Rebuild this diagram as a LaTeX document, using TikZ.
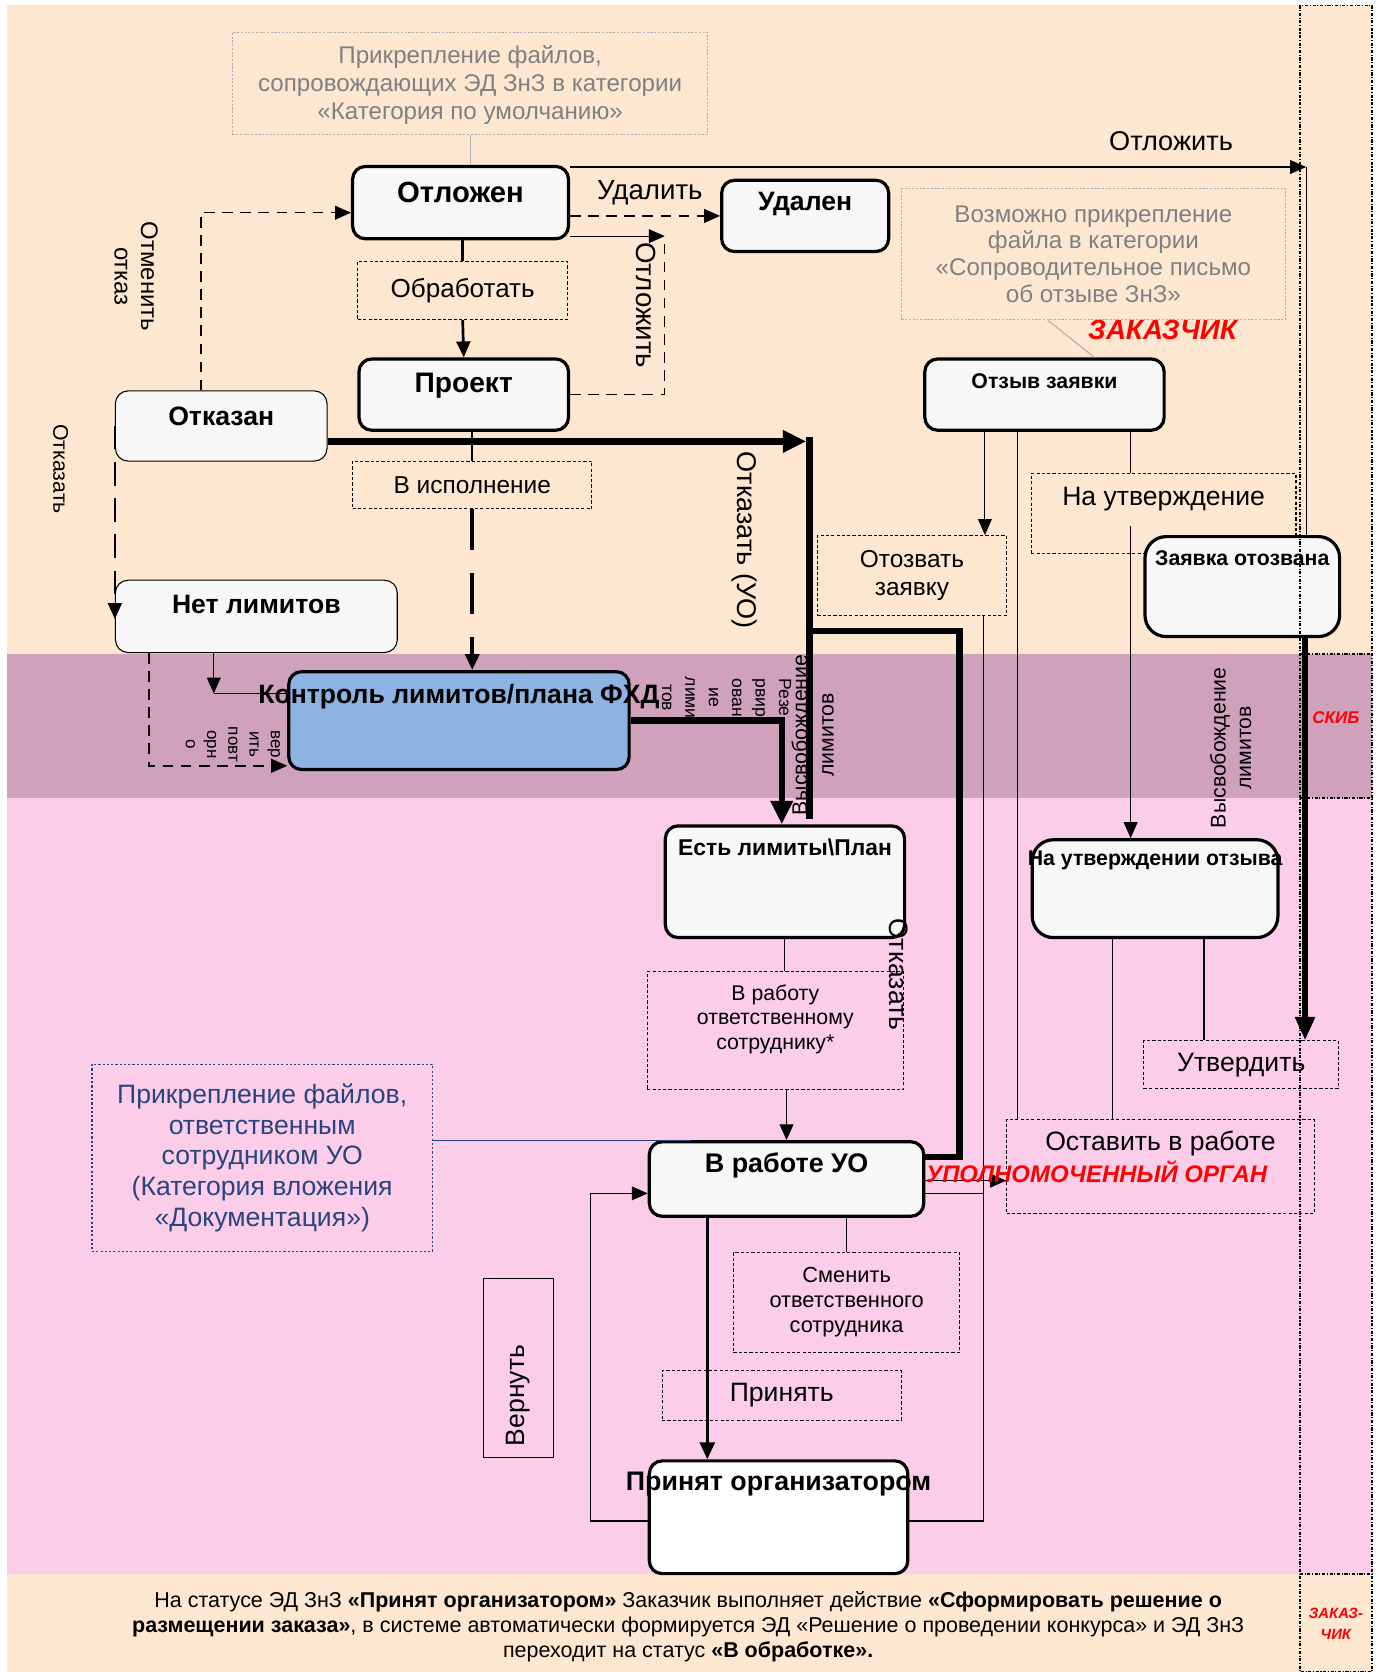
\documentclass[tikz,border=0pt]{standalone}
\usepackage{fontspec}
\setmainfont{Liberation Sans}
\usetikzlibrary{arrows.meta}
\definecolor{zakbg}{RGB}{253,231,209}
\definecolor{skibbg}{RGB}{208,161,187}
\definecolor{uobg}{RGB}{252,205,232}
\definecolor{boxfill}{RGB}{247,247,247}
\definecolor{kontrblue}{RGB}{141,179,226}
\definecolor{notegray}{RGB}{128,128,128}
\definecolor{noteline}{RGB}{175,175,175}
\definecolor{docblue}{RGB}{40,70,125}
\definecolor{orgred}{RGB}{255,0,0}

\begin{document}
\begin{tikzpicture}[x=1pt, y=-1pt, % one unit = one pixel of the scheme, y goes down
	stbox/.style={draw, line width=3pt, rounded corners=12pt, fill=boxfill, anchor=north west, inner sep=0pt},
	thinbox/.style={stbox, line width=1pt},
	actbox/.style={draw, line width=1pt, dash pattern=on 3pt off 2pt, anchor=north west, align=center, inner sep=0pt, font=\fontsize{25}{29}\selectfont},
	notebox/.style={actbox, draw=noteline, text=notegray, dash pattern=on 2pt off 1.5pt, font=\fontsize{22.7}{26}\selectfont},
	bigname/.style={anchor=center, inner sep=0pt, font=\fontsize{25}{29}\selectfont\bfseries},
	smallname/.style={anchor=center, inner sep=0pt, font=\fontsize{20}{24}\selectfont\bfseries},
	lbl/.style={anchor=center, inner sep=0pt, font=\fontsize{25}{29}\selectfont},
	redlbl/.style={anchor=center, inner sep=0pt, text=orgred},
	thinl/.style={line width=1pt},
	conn/.style={thinl, -{Triangle[length=15pt,width=13pt]}},
	dashconn/.style={conn, line width=1.3pt, dash pattern=on 10pt off 7pt},
	thickconn/.style={line width=6pt, -{Triangle[length=22pt,width=20pt]}},
	colline/.style={line width=1.5pt, dash pattern=on 3pt off 1.5pt on 1pt off 1.5pt}]
	\useasboundingbox (0,0) rectangle (1300,1572);
	
	% lanes
	\fill[zakbg] (7,5) rectangle (1290,615);
	\fill[skibbg] (7,615) rectangle (1290,750);
	\fill[uobg] (7,750) rectangle (1290,1480);
	\fill[zakbg] (7,1480) rectangle (1290,1572);
	
	% actions
	\node[actbox, minimum width=197pt, minimum height=55pt, font=\fontsize{24.5}{28}\selectfont] (obrab) at (336,245) {Обработать};
	\node[actbox, minimum width=225pt, minimum height=45pt, font=\fontsize{23}{27}\selectfont] (visp) at (331,433) {В исполнение};
	\node[actbox, minimum width=241pt, minimum height=111pt, label={[lbl,font=\fontsize{20}{23}\selectfont,align=center,yshift=-45pt]north:В работу\\ответственному\\сотруднику*}] (vrabotu) at (608,913) {};
	\node[actbox, minimum width=213pt, minimum height=94pt, font=\fontsize{20.5}{23.5}\selectfont] (smenit) at (689,1177) {Сменить\\ответственного\\сотрудника};
	\node[actbox, minimum width=225pt, minimum height=47pt] (prinyatact) at (622,1288) {Принять};
	\node[actbox, minimum width=249pt, minimum height=75pt, label={[lbl,yshift=-24pt]north:На утверждение}] (naut) at (969,445) {};
	\node[actbox, minimum width=178pt, minimum height=75pt, font=\fontsize{23}{26}\selectfont] (otozvat) at (768,503) {Отозвать\\заявку};
	\node[actbox, minimum width=183pt, minimum height=45pt] (utverd) at (1075,978) {Утвердить};
	\node[actbox, minimum width=289pt, minimum height=88pt, label={[lbl,yshift=-23pt]north:Оставить в работе}] (ostavit) at (946,1052) {};
	\node[draw, thinl, lbl, rotate=90, minimum width=168pt, minimum height=65pt] (vernut) at (487.5,1286) {Вернуть\hspace*{52pt}};
	
	% states
	\node[stbox, minimum width=203pt, minimum height=68pt, label={[bigname,font=\fontsize{27.5}{31}\selectfont\bfseries,yshift=-26pt]north:Отложен}] (otl) at (330,155) {};
	\node[stbox, minimum width=157pt, minimum height=67pt, label={[bigname,yshift=-24pt]north:Удален}] (udal) at (677,168) {};
	\node[stbox, minimum width=197pt, minimum height=67pt, label={[bigname,font=\fontsize{26.5}{30}\selectfont\bfseries,yshift=-27pt]north:Проект}] (proekt) at (336,336) {};
	\node[thinbox, minimum width=199pt, minimum height=66pt, label={[bigname,yshift=-24pt]north:Отказан}] (otkazan) at (108,367) {};
	\node[thinbox, minimum width=265pt, minimum height=68pt, label={[bigname,yshift=-23pt]north:Нет лимитов}] (netlim) at (108,545) {};
	\node[stbox, fill=kontrblue, minimum width=320pt, minimum height=92pt, label={[bigname,yshift=-25pt]north:Контроль лимитов/плана ФХД}] (kontrol) at (270,630) {};
	\node[stbox, minimum width=225pt, minimum height=105pt, label={[bigname,font=\fontsize{21.5}{25}\selectfont\bfseries,yshift=-22pt]north:Есть лимиты\textbackslash План}] (estlim) at (624,775) {};
	\node[stbox, minimum width=258pt, minimum height=70pt, label={[bigname,font=\fontsize{25.3}{29}\selectfont\bfseries,yshift=-24pt]north:В работе УО}] (vrabote) at (609,1072) {};
	\node[stbox, fill=white, minimum width=243pt, minimum height=106pt, label={[bigname,font=\fontsize{25.2}{29}\selectfont\bfseries,yshift=-23pt]north:Принят организатором}] (prinyat) at (609,1372) {};
	\node[stbox, minimum width=225pt, minimum height=67pt, label={[smallname,yshift=-22pt]north:Отзыв заявки}] (otzyv) at (868,336) {};
	\node[stbox, rounded corners=20pt, minimum width=183pt, minimum height=94pt, label={[smallname,yshift=-22pt]north:Заявка отозвана}] (otozvana) at (1075,503) {};
	\node[stbox, rounded corners=20pt, minimum width=231pt, minimum height=92pt, label={[smallname,yshift=-21pt]north:На утверждении отзыва}] (naotzyv) at (969,788) {};
	
	% attachments
	\node[notebox, minimum width=447pt, minimum height=96pt, label={[lbl,text=notegray,font=\fontsize{22.7}{26}\selectfont,align=center,yshift=-50pt]north:Прикрепление файлов,\\сопровождающих ЭД ЗнЗ в категории\\«Категория по умолчанию»}] (attach1) at (218,30) {};
	\node[notebox, minimum width=361pt, minimum height=123pt, font=\fontsize{22.7}{25.3}\selectfont] (attach2) at (847,177) {Возможно прикрепление\\файла в категории\\«Сопроводительное письмо\\об отзыве ЗнЗ»};
	\node[actbox, draw=docblue, text=docblue, dash pattern=on 2pt off 2pt, minimum width=320pt, minimum height=176pt, font=\fontsize{25}{29}\selectfont] (attach3) at (86,1000) {Прикрепление файлов,\\ответственным\\сотрудником УО\\(Категория вложения\\«Документация»)};
	
	% connectors, upper part
	\coordinate (postR) at (1228,157);
	\draw[conn] (postR -| otl.east) -- (postR);
	\draw[thinl] (postR) -- (postR |- otozvana.north);
	\draw[dashconn] (otl.east |- udal.west) -- (udal.west);
	\coordinate (postL) at (625,222);
	\draw[line width=1.3pt, dash pattern=on 10pt off 7pt] (proekt.east) -| (postL);
	\draw[conn] (postL -| otl.east) -- (postL);
	\draw[thinl, noteline] (attach1.south) -- (attach1.south |- otl.north);
	\draw[line width=2.5pt] (obrab.north |- otl.south) -- (obrab.north);
	\draw[line width=2.5pt, -{Triangle[length=15pt,width=13pt]}] (obrab.south) -- (proekt.north);
	\coordinate (cancelC) at (189,200);
	\draw[dashconn] (cancelC |- otkazan.north) -- (cancelC) -- (cancelC -| otl.west);
	\coordinate (rejC) at (758,415);
	\coordinate (rejV) at (761,415);
	\draw[thickconn] (otkazan.east |- rejC) -- (rejC);
	\draw[line width=6pt] ([yshift=4pt]rejV) -- ([yshift=5pt]rejV |- estlim.north);
	\draw[line width=2pt] (visp.north |- proekt.south) -- (visp.north);
	\draw[line width=3.5pt, dash pattern=on 38pt off 22pt, -{Triangle[length=15pt,width=13pt]}] (visp.south) -- (visp.south |- kontrol.north);
	\coordinate (rejL) at (108,582);
	\draw[line width=2pt, dash pattern=on 22pt off 12pt, -{Triangle[length=15pt,width=13pt]}] (otkazan.west) -- (rejL);
	\coordinate (netC) at (201,652);
	\draw[conn] (netC |- netlim.south) -- (netC);
	\draw[thinl] (netC) -- (netC -| kontrol.west);
	\coordinate (recheckC) at (140,720);
	\draw[dashconn] (recheckC |- netlim.south) -- (recheckC) -- (recheckC -| kontrol.west);
	\coordinate (resC) at (735,677);
	\draw[thickconn] (kontrol.east) -| (resC |- estlim.north);
	\coordinate (uoRej) at (902,1088);
	\coordinate (uoRejTop) at (902,593);
	\draw[line width=6pt] (uoRej -| vrabote.east) -- (uoRej) -- (uoRejTop) -- (uoRejTop -| rejV);
	
	% connectors, lower part
	\draw[thinl] (estlim.south) -- (estlim.south |- vrabotu.north);
	\draw[conn] (vrabote.north |- vrabotu.south) -- (vrabote.north);
	\coordinate (docC) at (650,1072);
	\draw[thinl, docblue] (docC -| attach3.east) -- (docC);
	\coordinate (acceptC) at (665,1142);
	\draw[line width=3pt, -{Triangle[length=16pt,width=14pt]}] (acceptC |- vrabote.south) -- (acceptC |- prinyat.north);
	\draw[thinl] (smenit.north |- vrabote.south) -- (smenit.north);
	\coordinate (retB) at (555,1430);
	\coordinate (retT) at (555,1122);
	\draw[conn] (retB -| prinyat.west) -- (retB) -- (retT) -- (retT -| vrabote.west);
	\coordinate (rightB) at (925,1430);
	\draw[thinl] (rightB -| prinyat.east) -- (rightB) -- (rightB |- otozvat.south);
	\draw[thinl] (retT -| vrabote.east) -- (retT -| rightB);
	\coordinate (keepC) at (946,1110);
	\draw[conn] (keepC -| vrabote.east) -- (keepC);
	
	% recall branch
	\coordinate (revA) at (926,503);
	\draw[conn] (revA |- otzyv.south) -- (revA |- otozvat.north);
	\coordinate (revB) at (957,1052);
	\draw[thinl] (revB |- otzyv.south) -- (revB |- ostavit.north);
	\coordinate (revC) at (1063,495);
	\draw[thinl] (revC |- otzyv.south) -- (revC |- naut.north);
	\draw[conn] (revC) -- (revC |- naotzyv.north);
	\coordinate (noteA) at (985,300);
	\coordinate (noteB) at (1029,336);
	\draw[thinl, noteline] (noteA |- attach2.south) -- (noteB |- otzyv.north);
	\coordinate (apprA) at (1046,900);
	\draw[thinl] (apprA |- naotzyv.south) -- (apprA |- ostavit.north);
	\coordinate (apprB) at (1132,900);
	\draw[thinl] (apprB |- naotzyv.south) -- (apprB |- utverd.north);
	\coordinate (wdC) at (1227,700);
	\draw[line width=5pt, -{Triangle[length=22pt,width=18pt]}] (wdC |- otozvana.south) -- (wdC |- utverd.north);
	
	% labels on the arrows
	\node[lbl, font=\fontsize{26}{30}\selectfont] (lbldel) at (611,181) {Удалить};
	\node[lbl, font=\fontsize{25.5}{29}\selectfont] (lblpost) at (1101,133) {Отложить};
	\node[lbl, font=\fontsize{26}{30}\selectfont, rotate=-90] (lblpost2) at (607,287) {Отложить};
	\node[lbl, font=\fontsize{22.5}{25}\selectfont, rotate=-90, align=center] (lblcancel) at (128,260) {Отменить\\отказ};
	\node[lbl, font=\fontsize{20}{22}\selectfont, rotate=-90] (lblrej1) at (57,441) {Отказать};
	\node[lbl, font=\fontsize{25.5}{29}\selectfont, rotate=-90] (lblrejuo) at (700,508) {Отказать (УО)};
	\node[lbl, rotate=-90] (lblrej2) at (845,916) {Отказать};
	\node[lbl, font=\fontsize{16.5}{22}\selectfont, rotate=-90, align=center] (lblreserve) at (683,656) {Резе\\рвир\\ован\\ие\\лими\\тов};
	\node[lbl, font=\fontsize{16}{20}\selectfont, rotate=-90, align=center] (lblrecheck) at (219,700) {вер\\ить\\повт\\орн\\о};
	\node[lbl, font=\fontsize{20}{25}\selectfont, rotate=90, align=center] (lblfree1) at (764,691) {Высвобождение\\лимитов};
	\node[lbl, font=\fontsize{20}{24}\selectfont, rotate=90, align=center] (lblfree2) at (1157,703) {Высвобождение\\лимитов};
	
	% lane names
	\node[redlbl, font=\fontsize{26}{30}\selectfont\bfseries\itshape] (lblzak) at (1093,310) {ЗАКАЗЧИК};
	\node[redlbl, font=\fontsize{22.5}{26}\selectfont\bfseries\itshape] (lbluo) at (1031,1102) {УПОЛНОМОЧЕННЫЙ ОРГАН};
	\node[redlbl, font=\fontsize{16}{20}\selectfont\bfseries\itshape] (lblskib) at (1256,675) {СКИБ};
	\node[redlbl, font=\fontsize{14}{20}\selectfont\bfseries\itshape, align=center] (lblzak2) at (1256,1527) {ЗАКАЗ-\\ЧИК};
	
	% footer
	\node[lbl, font=\fontsize{20.2}{23.5}\selectfont, align=center] (footer) at (647,1529) {На статусе ЭД ЗнЗ \textbf{«Принят организатором»} Заказчик выполняет действие \textbf{«Сформировать решение о}\\\textbf{размещении заказа»}, в системе автоматически формируется ЭД «Решение о проведении конкурса» и ЭД ЗнЗ\\переходит на статус \textbf{«В обработке».}};
	
	% lane column on the right
	\draw[colline] (1222,5) rectangle (1290,1572);
	\draw[colline] (1222,615) -- (1290,615);
	\draw[colline] (1222,750) -- (1290,750);
	\draw[colline] (1222,1480) -- (1290,1480);
\end{tikzpicture}
\end{document}
